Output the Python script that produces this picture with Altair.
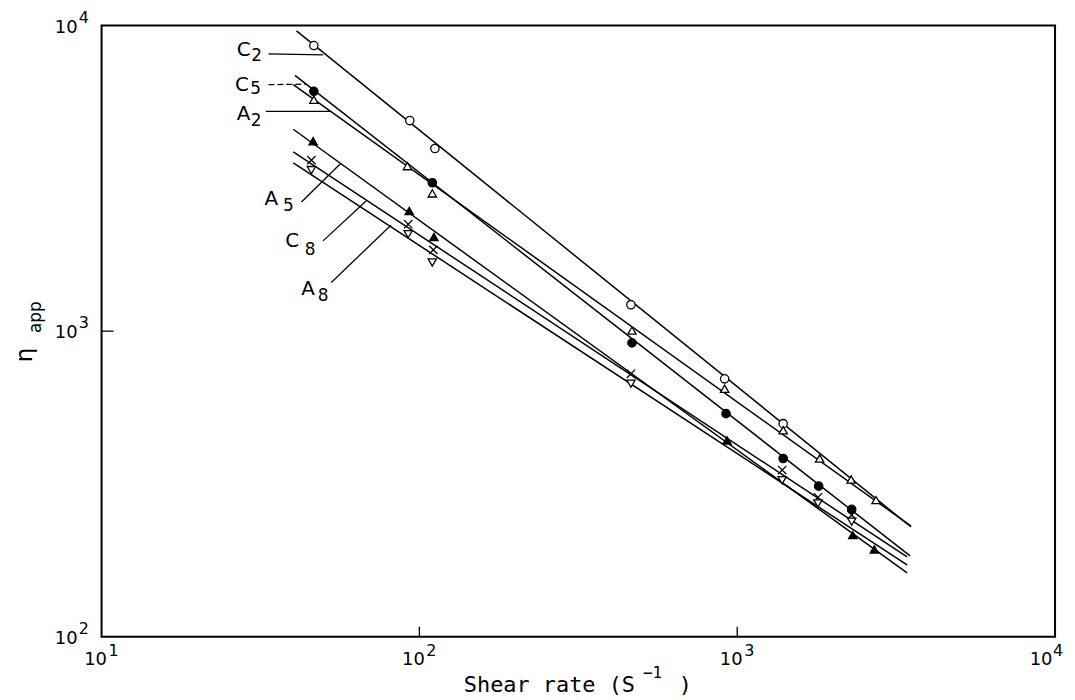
import altair as alt
import pandas as pd

# ---------------- data ----------------
series = ["C2", "C5", "A2", "A5", "C8", "A8"]

c2_x = [46.55, 93.3, 111.9, 463, 912.8, 1395]
c2_y = [8603, 4888, 3960, 1220, 698, 498]
c5_x = [46.55, 109.8, 466.5, 922, 1395, 1804, 2292]
c5_y = [6092, 3059, 915, 537, 383, 311, 261]
a2_x = [46.55, 91.7, 109.8, 466.5, 912.8, 1395, 1817, 2282, 2733]
a2_y = [5722, 3467, 2824, 1004, 648, 474, 383, 327, 280]
a5_x = [46.3, 92.9, 111.1, 928.7, 2309, 2700]
a5_y = [4183, 2473, 2034, 439, 215, 193]
c8_x = [45.73, 92.2, 110.6, 463, 1385, 1795, 2292]
c8_y = [3627, 2238, 1845, 725, 351, 286, 250]
a8_x = [45.73, 92.2, 109.8, 463, 1385, 1795, 2292]
a8_y = [3365, 2076, 1677, 673, 325, 273, 238]

# fitted straight lines (start / end), order as `series`
fit_x_start = [41.05, 40.6, 40.1, 40.1, 40.1, 40.1]
fit_y_start = [9610, 6869, 6405, 4579, 3860, 3554]
fit_x_end = [3524, 3499, 3524, 3423, 3423, 3423]
fit_y_end = [228.5, 183.8, 230, 161.8, 182.4, 171.8]

# curve labels
label_letter = ["C", "C", "A", "A", "C", "A"]
label_digit = ["2", "5", "2", "5", "8", "8"]
letter_x = [27.98, 27.64, 27.98, 34.22, 39.81, 44.67]
letter_y = [8333, 6396, 5124, 2716, 1966, 1371]
digit_x = [30.73, 30.51, 30.62, 38.68, 45.32, 49.77]
digit_y = [7924, 6183, 4862, 2568, 1838, 1301]

# leader lines from labels to curves
leader_x1 = [33.5, 33.5, 32.86, 42.56, 49.77, 52.82]
leader_y1 = [8086, 6405, 5241, 2645, 1974, 1443]
leader_x2 = [49.77, 44.03, 52.82, 56.52, 67.95, 81.35]
leader_y2 = [8024, 6434, 5241, 3539, 2666, 2221]
leader_dashed = [False, True, False, False, False, False]

# axes
x_tick_values = [10, 100, 1000, 10000]
x_tick_exp = ["1", "2", "3", "4"]
y_tick_values = [100, 1000, 10000]
y_tick_exp = ["2", "3", "4"]
x_inner_ticks = [100, 1000]
y_inner_ticks = [1000]

# ---------------- tables ----------------
xs_all = [c2_x, c5_x, a2_x, a5_x, c8_x, a8_x]
ys_all = [c2_y, c5_y, a2_y, a5_y, c8_y, a8_y]
rows = []
for s, xv, yv in zip(series, xs_all, ys_all):
    for a, b in zip(xv, yv):
        rows.append({"series": s, "x": a, "y": b})
points_df = pd.DataFrame(rows)

fit_rows = []
for i, s in enumerate(series):
    fit_rows.append({"series": s, "x": fit_x_start[i], "y": fit_y_start[i], "o": 0})
    fit_rows.append({"series": s, "x": fit_x_end[i], "y": fit_y_end[i], "o": 1})
fit_df = pd.DataFrame(fit_rows)

labels_df = pd.DataFrame({
    "series": series, "letter": label_letter, "digit": label_digit,
    "lx": letter_x, "ly": letter_y, "dx": digit_x, "dy": digit_y,
})
leader_df = pd.DataFrame({
    "series": series, "x1": leader_x1, "y1": leader_y1,
    "x2": leader_x2, "y2": leader_y2, "dashed": leader_dashed,
})
xt_df = pd.DataFrame({"v": x_tick_values, "base": ["10"] * 4, "exp": x_tick_exp})
yt_df = pd.DataFrame({"v": y_tick_values, "base": ["10"] * 3, "exp": y_tick_exp})

W, H = 958, 614
FONT = "DejaVu Sans"

xs = alt.Scale(type="log", domain=[10, 10000])
ys = alt.Scale(type="log", domain=[100, 10000])

X_PATH = "M-1,-1L1,1M-1,1L1,-1"
shapes = ["circle", "circle", "triangle-up", "triangle-up", X_PATH, "triangle-down"]
fills = ["white", "black", "white", "black", "transparent", "white"]

lines = alt.Chart(fit_df).mark_line(color="black", strokeWidth=1.5).encode(
    x=alt.X("x:Q", scale=xs, axis=None),
    y=alt.Y("y:Q", scale=ys, axis=None),
    detail="series:N",
    order="o:Q",
)

points = alt.Chart(points_df).mark_point(filled=True, size=70, strokeWidth=1.3, opacity=1).encode(
    x=alt.X("x:Q", scale=xs, axis=None),
    y=alt.Y("y:Q", scale=ys, axis=None),
    shape=alt.Shape("series:N", scale=alt.Scale(domain=series, range=shapes), legend=None),
    fill=alt.Fill("series:N", scale=alt.Scale(domain=series, range=fills), legend=None),
    stroke=alt.value("black"),
)

leaders_solid = alt.Chart(leader_df).transform_filter("!datum.dashed").mark_rule(
    color="black", strokeWidth=1.3).encode(
    x=alt.X("x1:Q", scale=xs, axis=None), x2="x2:Q",
    y=alt.Y("y1:Q", scale=ys, axis=None), y2="y2:Q",
)
leaders_dash = alt.Chart(leader_df).transform_filter("datum.dashed").mark_rule(
    color="black", strokeWidth=1.3, strokeDash=[6, 3]).encode(
    x=alt.X("x1:Q", scale=xs, axis=None), x2="x2:Q",
    y=alt.Y("y1:Q", scale=ys, axis=None), y2="y2:Q",
)

letters = alt.Chart(labels_df).mark_text(font=FONT, fontSize=20, color="black",
                                          align="center", baseline="middle").encode(
    x=alt.X("lx:Q", scale=xs, axis=None), y=alt.Y("ly:Q", scale=ys, axis=None), text="letter:N")
digits = alt.Chart(labels_df).mark_text(font=FONT, fontSize=17, color="black",
                                         align="center", baseline="middle").encode(
    x=alt.X("dx:Q", scale=xs, axis=None), y=alt.Y("dy:Q", scale=ys, axis=None), text="digit:N")

xticks = alt.Chart(pd.DataFrame({"v": x_inner_ticks})).mark_rule(color="black", strokeWidth=1.3).encode(
    x=alt.X("v:Q", scale=xs, axis=None), y=alt.value(H), y2=alt.value(H - 10))
yticks = alt.Chart(pd.DataFrame({"v": y_inner_ticks})).mark_rule(color="black", strokeWidth=1.3).encode(
    y=alt.Y("v:Q", scale=ys, axis=None), x=alt.value(0), x2=alt.value(12))

xlab_base = alt.Chart(xt_df).transform_filter("datum.v < 5000").mark_text(
    font=FONT, fontSize=18, align="center", baseline="middle", dx=-6, color="black").encode(
    x=alt.X("v:Q", scale=xs, axis=None), y=alt.value(H + 23), text="base:N")
xlab_exp = alt.Chart(xt_df).transform_filter("datum.v < 5000").mark_text(
    font=FONT, fontSize=16, align="left", baseline="middle", dx=7, color="black").encode(
    x=alt.X("v:Q", scale=xs, axis=None), y=alt.value(H + 14), text="exp:N")
xlab_base_last = alt.Chart(xt_df).transform_filter("datum.v > 5000").mark_text(
    font=FONT, fontSize=18, align="center", baseline="middle", dx=-14, color="black").encode(
    x=alt.X("v:Q", scale=xs, axis=None), y=alt.value(H + 23), text="base:N")
xlab_exp_last = alt.Chart(xt_df).transform_filter("datum.v > 5000").mark_text(
    font=FONT, fontSize=16, align="left", baseline="middle", dx=-2, color="black").encode(
    x=alt.X("v:Q", scale=xs, axis=None), y=alt.value(H + 14), text="exp:N")

ylab_base = alt.Chart(yt_df).mark_text(
    font=FONT, fontSize=18, align="right", baseline="middle", dy=2, color="black").encode(
    y=alt.Y("v:Q", scale=ys, axis=None), x=alt.value(-24), text="base:N")
ylab_exp = alt.Chart(yt_df).mark_text(
    font=FONT, fontSize=16, align="left", baseline="middle", dy=-8, color="black").encode(
    y=alt.Y("v:Q", scale=ys, axis=None), x=alt.value(-23), text="exp:N")

title_df = pd.DataFrame({"main": ["Shear rate (S"], "sup": ["\u22121"], "close": [")"],
                         "eta": ["\u03b7"], "sub": ["app"]})
xt_main = alt.Chart(title_df).mark_text(font="DejaVu Sans Mono", fontSize=22, align="right",
                                         baseline="middle", color="black").encode(
    x=alt.value(536), y=alt.value(H + 49), text="main:N")
xt_sup = alt.Chart(title_df).mark_text(font="DejaVu Sans Mono", fontSize=16, align="left",
                                        baseline="middle", color="black").encode(
    x=alt.value(544), y=alt.value(H + 36), text="sup:N")
xt_close = alt.Chart(title_df).mark_text(font="DejaVu Sans Mono", fontSize=22, align="left",
                                          baseline="middle", color="black").encode(
    x=alt.value(580), y=alt.value(H + 49), text="close:N")
yt_eta = alt.Chart(title_df).mark_text(font=FONT, fontSize=23, angle=270, align="center",
                                        baseline="middle", color="black").encode(
    x=alt.value(-77), y=alt.value(331), text="eta:N")
yt_sub = alt.Chart(title_df).mark_text(font=FONT, fontSize=17, angle=270, align="center",
                                        baseline="middle", color="black").encode(
    x=alt.value(-66), y=alt.value(293), text="sub:N")

chart = alt.layer(
    lines, leaders_solid, leaders_dash, points, letters, digits,
    xticks, yticks, xlab_base, xlab_exp, xlab_base_last, xlab_exp_last,
    ylab_base, ylab_exp, xt_main, xt_sup, xt_close, yt_eta, yt_sub,
).properties(
    width=W, height=H,
    padding={"left": 94, "top": 16, "right": 12, "bottom": 76},
    autosize=alt.AutoSizeParams(type="none"),
    background="white",
).configure_view(stroke="black", strokeWidth=2)

chart.save("out.html", embed_options={"renderer": "svg", "actions": False})
